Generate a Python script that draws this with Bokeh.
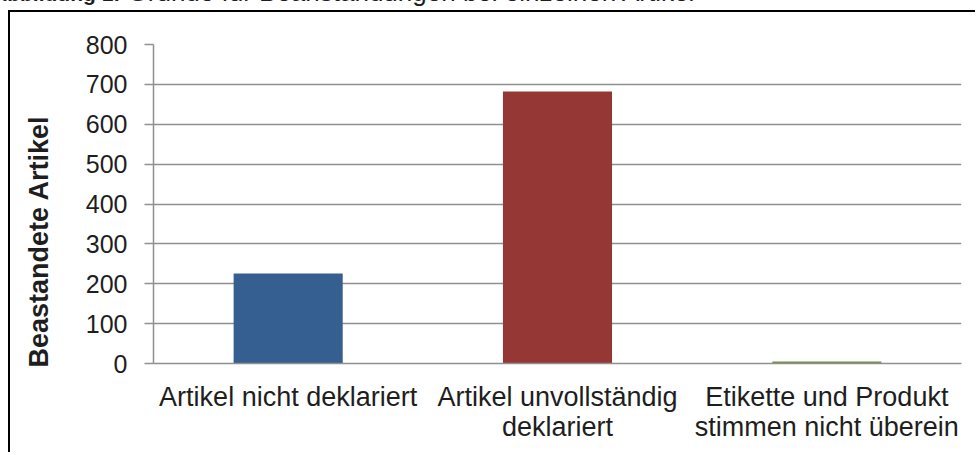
from bokeh.plotting import figure
from bokeh.models import Range1d, ColumnDataSource, Div
from bokeh.layouts import column
from bokeh.embed import file_html
from bokeh.resources import INLINE

# ---- data ----
categories = ["Artikel nicht deklariert", "Artikel unvollständig\ndeklariert",
              "Etikette und Produkt\nstimmen nicht überein"]
values = [226, 682, 5]
bar_colors = ["#365F91", "#953735", "#77933C"]
y_ticks = [0, 100, 200, 300, 400, 500, 600, 700, 800]
title_bold = "Abbildung 1:"
title_rest = "Gründe für Beanstandungen bei einzelnen Artikel"
y_title = "Beastandete Artikel"

FONT = "Liberation Sans"
TXT = "#1e1e1e"
GRID = "#8f8f8f"

title = Div(text=(f"<span style='font-weight:bold;font-size:21px'>{title_bold}</span>"
                  f" {title_rest}"),
            width=986, height=28, margin=(-22, 0, 4, -8),
            styles={"font-family": FONT, "font-size": "26px", "line-height": "28px",
                    "color": TXT, "white-space": "nowrap"})

W, H = 967, 442
p = figure(x_range=categories, y_range=Range1d(0, 800), width=W, height=H,
           output_backend="svg", toolbar_location=None,
           min_border_left=143, min_border_right=16, min_border_top=32, min_border_bottom=91)
p.margin = (0, 0, 0, 8)
p.styles = {"border-left": "2.5px solid black", "border-top": "2.5px solid black"}
p.outline_line_color = None
p.background_fill_color = "white"
p.border_fill_color = "white"

src = ColumnDataSource(dict(cat=categories, val=values, color=bar_colors))
p.vbar(x="cat", top="val", width=0.405, color="color", source=src, line_color=None)

# y axis
p.yaxis.ticker = y_ticks
p.yaxis.axis_line_color = GRID
p.yaxis.axis_line_width = 1.5
p.yaxis.major_tick_line_color = GRID
p.yaxis.major_tick_line_width = 1.5
p.yaxis.major_tick_in = 0
p.yaxis.major_tick_out = 9
p.yaxis.minor_tick_line_color = None
p.yaxis.major_label_standoff = 17
p.yaxis.major_label_text_font = FONT
p.yaxis.major_label_text_font_size = "25px"
p.yaxis.major_label_text_color = TXT
# the reference's axis title sits low (starting at the axis bottom); trailing
# no-break spaces move the centred label down accordingly
p.yaxis.axis_label = y_title + "\u00a0" * 10
p.yaxis.axis_label_text_font = FONT
p.yaxis.axis_label_text_font_style = "bold"
p.yaxis.axis_label_text_font_size = "27px"
p.yaxis.axis_label_text_color = TXT
p.yaxis.axis_label_standoff = 29

# x axis
p.xaxis.axis_line_color = GRID
p.xaxis.axis_line_width = 1.5
p.xaxis.major_tick_line_color = None
p.xaxis.minor_tick_line_color = None
p.xaxis.major_label_standoff = 12
p.xaxis.major_label_text_font = FONT
p.xaxis.major_label_text_font_size = "27px"
p.xaxis.major_label_text_color = TXT
p.xaxis.major_label_text_line_height = 1.0

p.xgrid.grid_line_color = None
p.ygrid.grid_line_color = GRID
p.ygrid.grid_line_width = 1.5

layout = column(title, p, spacing=0)
open("out.html", "w").write(file_html(layout, INLINE))
